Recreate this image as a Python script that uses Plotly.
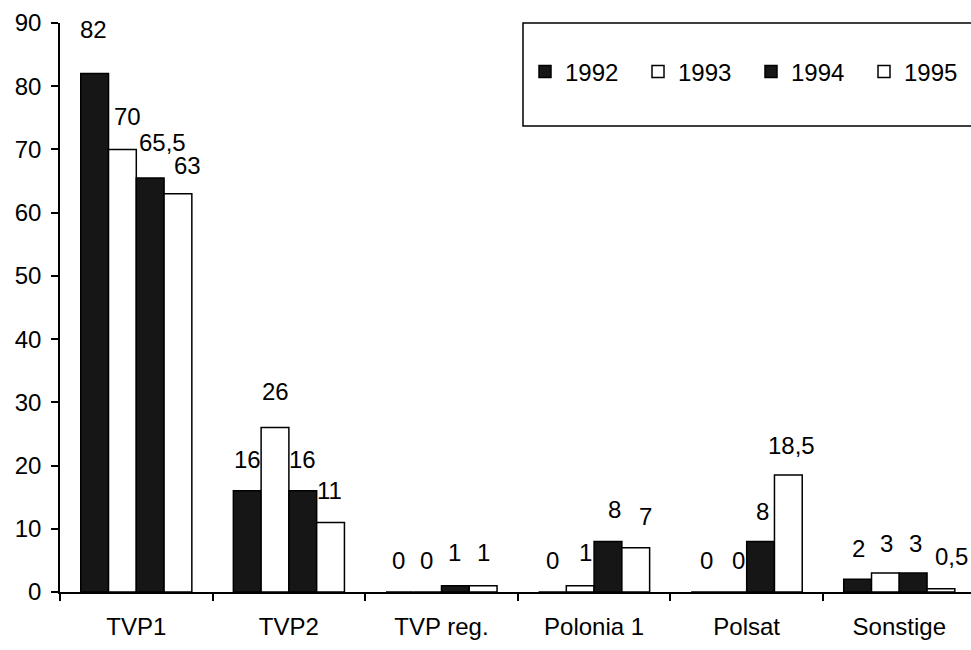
import plotly.graph_objects as go

categories = ["TVP1", "TVP2", "TVP reg.", "Polonia 1", "Polsat", "Sonstige"]
years = ["1992", "1993", "1994", "1995"]
v1992 = [82, 16, 0, 0, 0, 2]
v1993 = [70, 26, 0, 1, 0, 3]
v1994 = [65.5, 16, 1, 8, 8, 3]
v1995 = [63, 11, 1, 7, 18.5, 0.5]
series = [v1992, v1993, v1994, v1995]

# styling
fills = ["#161616", "#ffffff", "#161616", "#ffffff"]
FONT = "Liberation Sans, Arial, sans-serif"
FS = 24
# label nudges in px (dx, dy above bar top)
label_dx = [[-1, 0, -1, 0, 1, 1],
            [5, 0, -1, 5, 6, 1],
            [12, 0, -1, 7, 2, 2],
            [10, -1, 0, 10, 3, 11]]
label_dy = [[44, 31, 32, 32, 32, 31],
            [33, 36, 32, 33, 32, 30],
            [35, 31, 33, 32, 30, 30],
            [28, 32, 33, 31, 30, 32]]

W, H = 971, 650
ML, MT, MB = 60, 23, 58
BARGAP = 0.272
xrange_ = [-0.5, 5.47]
plot_w = W - ML
plot_h = H - MT - MB
cat_px = plot_w / (xrange_[1] - xrange_[0])
bar_px = cat_px * (1 - BARGAP) / 4

fig = go.Figure()
for i, (yr, vals) in enumerate(zip(years, series)):
    fig.add_trace(go.Bar(
        x=categories, y=vals, name=yr,
        marker=dict(color=fills[i], line=dict(color="#000", width=1.5)),
    ))

def fmt(v):
    return ("%g" % v).replace(".", ",")

ann = []
for i, vals in enumerate(series):
    off = (i - 1.5) * bar_px
    for j, v in enumerate(vals):
        ann.append(dict(
            x=categories[j], y=v, xref="x", yref="y",
            text=fmt(v), showarrow=False,
            xshift=off + label_dx[i][j], yshift=label_dy[i][j],
            xanchor="center", yanchor="middle",
            font=dict(family=FONT, size=FS, color="#000"),
        ))

def px_to_paper_x(p):
    return (p - ML) / plot_w
def px_to_paper_y(p):
    return (H - MB - p) / plot_h

fig.update_layout(
    width=W, height=H,
    margin=dict(l=ML, r=0, t=MT, b=MB, pad=0, autoexpand=False),
    paper_bgcolor="white", plot_bgcolor="white",
    barmode="group", bargap=BARGAP, bargroupgap=0,
    font=dict(family=FONT, size=FS, color="#000"),
    annotations=ann,
    showlegend=True,
    legend=dict(
        orientation="h", xref="paper", yref="paper",
        x=px_to_paper_x(525), y=px_to_paper_y(72), xanchor="left", yanchor="middle",
        bgcolor="rgba(0,0,0,0)", borderwidth=0,
        font=dict(family=FONT, size=FS, color="#000"),
        entrywidth=68, entrywidthmode="pixels",
        traceorder="normal",
    ),
    shapes=[dict(
        type="rect", xref="paper", yref="paper",
        x0=px_to_paper_x(523), x1=px_to_paper_x(1000),
        y0=px_to_paper_y(126), y1=px_to_paper_y(23),
        line=dict(color="#000", width=1.5), fillcolor="rgba(0,0,0,0)",
        layer="above",
    )],
    xaxis=dict(
        range=xrange_, showgrid=False, showline=True, linecolor="#000", linewidth=1.5,
        ticks="outside", tickson="boundaries", ticklen=7, tickcolor="#000", tickwidth=1.5,
        tickfont=dict(family=FONT, size=FS), ticklabelstandoff=12, fixedrange=True,
    ),
    yaxis=dict(
        range=[0, 90], dtick=10, showgrid=False, showline=True, linecolor="#000", linewidth=1.5,
        ticks="outside", ticklen=7, tickcolor="#000", tickwidth=1.5, zeroline=False,
        tickfont=dict(family=FONT, size=FS), ticklabelstandoff=5, fixedrange=True,
    ),
)

fig.write_html("out.html")
